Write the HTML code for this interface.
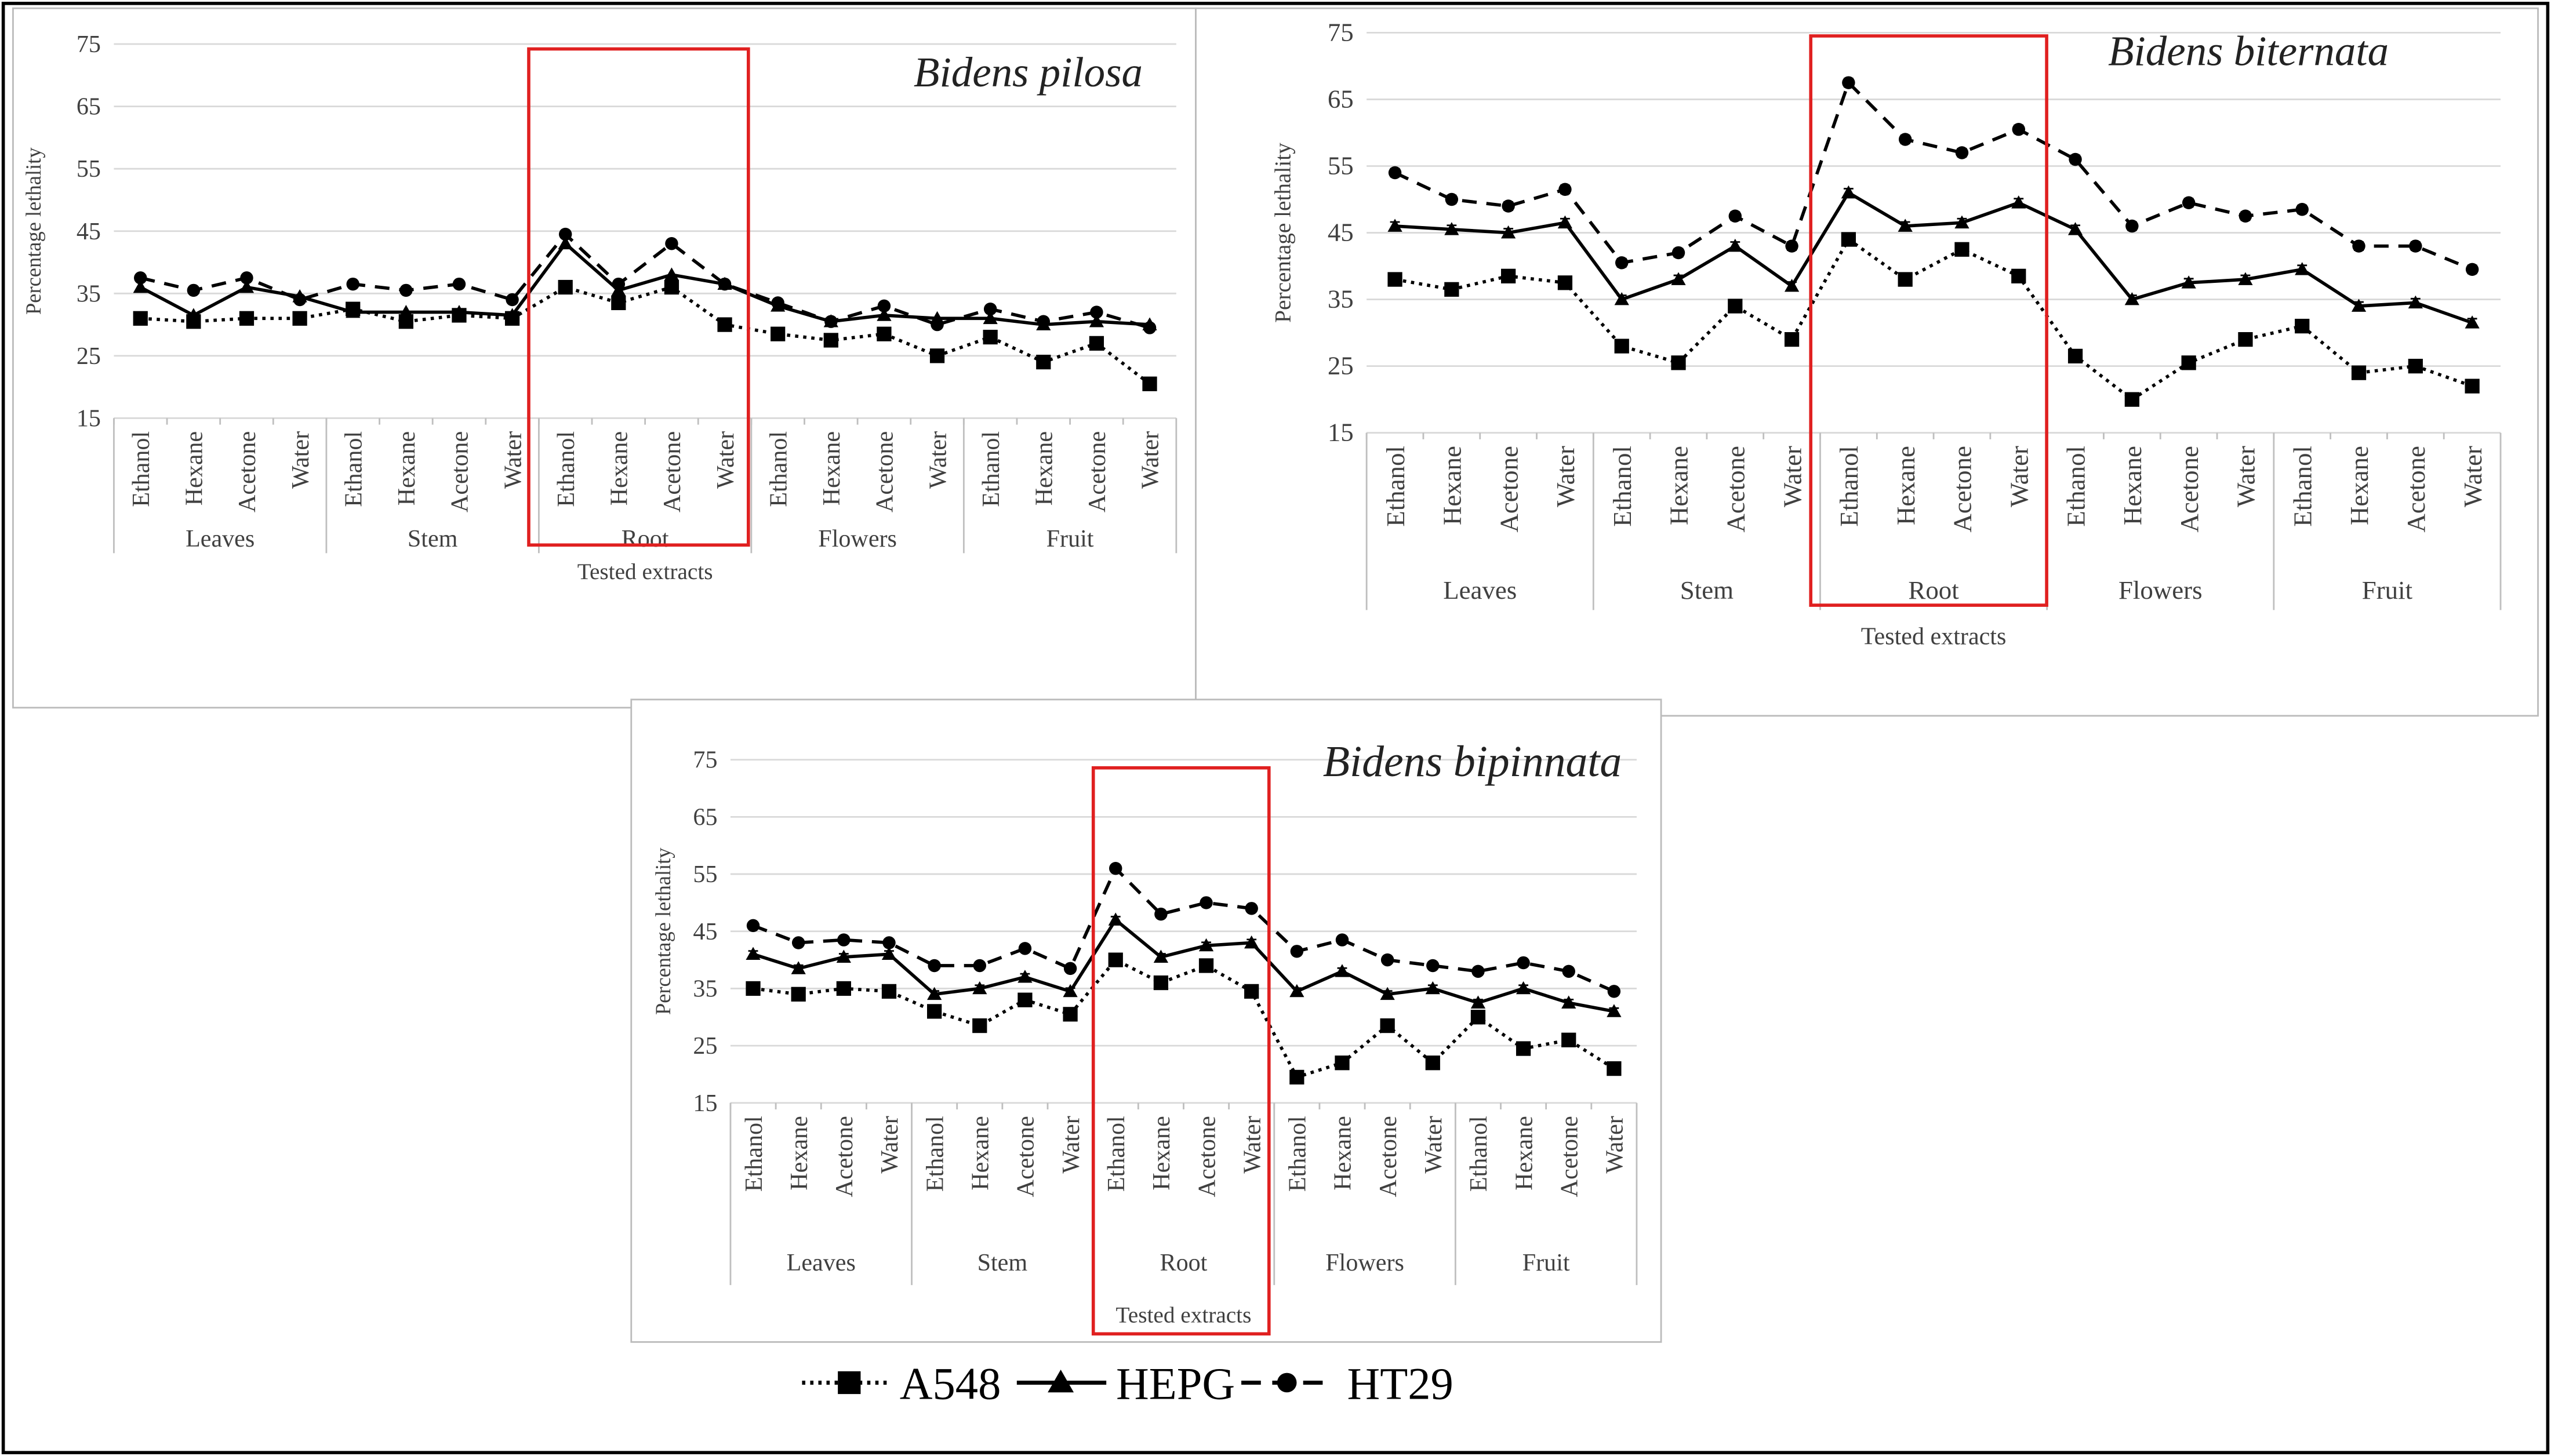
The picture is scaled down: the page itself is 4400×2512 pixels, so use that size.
<!DOCTYPE html>
<html><head><meta charset="utf-8"><style>
html,body{margin:0;padding:0;background:#fff;}
svg{display:block;}
text{font-family:"Liberation Serif",serif;fill:#404040;}
</style></head><body>
<svg id="s" width="4400" height="2512" viewBox="0 0 1568 895" xmlns="http://www.w3.org/2000/svg">
<rect x="2" y="2" width="1564" height="891" fill="#fff" stroke="#000" stroke-width="2"/>
<rect x="8" y="5" width="727" height="430" fill="#fff" stroke="#bbb" stroke-width="1"/>
<rect x="735" y="5" width="825" height="435" fill="#fff" stroke="#bbb" stroke-width="1"/>
<rect x="388" y="430" width="633" height="395" fill="#fff" stroke="#bbb" stroke-width="1"/>
<g id="g"></g>
<g font-size="28">
<line x1="493" y1="850" x2="548" y2="850" stroke="#000" stroke-width="2.5" stroke-dasharray="2,3"/>
<rect x="515" y="843" width="14" height="14" fill="#000"/>
<text x="553" y="860" style="fill:#000">A548</text>
<line x1="625" y1="850" x2="680" y2="850" stroke="#000" stroke-width="2.5"/>
<polygon points="652,842 660,856 644,856" fill="#000"/>
<text x="686" y="860" style="fill:#000">HEPG</text>
<line x1="763" y1="850" x2="820" y2="850" stroke="#000" stroke-width="2.5" stroke-dasharray="12,7"/>
<circle cx="791" cy="850" r="6" fill="#000"/>
<text x="828" y="860" style="fill:#000">HT29</text>
</g>
</svg>
<script>
const NS="http://www.w3.org/2000/svg",G=document.getElementById('g');
function el(t,a,txt){const e=document.createElementNS(NS,t);for(const k in a)e.setAttribute(k,a[k]);if(txt!==undefined)e.textContent=txt;G.appendChild(e);return e;}
const cats=["Ethanol","Hexane","Acetone","Water"],grps=["Leaves","Stem","Root","Flowers","Fruit"];
function panel(p){
 const yv=v=>p.y75+(75-v)*(p.y15-p.y75)/60;
 const w=(p.x1-p.x0)/20,xc=i=>p.x0+w*(i+0.5);
 for(let v=15;v<=75;v+=10){
  el('line',{x1:p.x0,x2:p.x1,y1:yv(v),y2:yv(v),stroke:'#d9d9d9','stroke-width':1});
  el('text',{x:p.x0-8,y:yv(v)+5,'text-anchor':'end','font-size':p.fs},v);
 }
 el('text',{transform:`translate(${p.yl},${(p.y75+p.y15)/2}) rotate(-90)`,'text-anchor':'middle','font-size':p.fs-2},'Percentage lethality');
 for(let g=0;g<=5;g++){const x=p.x0+g*4*w;el('line',{x1:x,x2:x,y1:p.y15,y2:p.gsep,stroke:'#bfbfbf','stroke-width':1});}
 for(let i=0;i<20;i++){
  el('line',{x1:p.x0+w*i,x2:p.x0+w*i,y1:p.y15,y2:p.y15+4,stroke:'#bfbfbf'});
  el('text',{transform:`translate(${xc(i)+p.fs*0.35},${p.y15+8}) rotate(-90)`,'text-anchor':'end','font-size':p.fs},cats[i%4]);
 }
 for(let g=0;g<5;g++)el('text',{x:p.x0+(g*4+2)*w,y:p.gy,'text-anchor':'middle','font-size':p.fs},grps[g]);
 el('text',{x:(p.x0+p.x1)/2,y:p.ty,'text-anchor':'middle','font-size':p.fs-1},'Tested extracts');
 const ser=[[p.a,'2,3','sq'],[p.h,'','tri'],[p.t,'9,6','ci']];
 for(const [d,da,m] of ser){
  el('polyline',{points:d.map((v,i)=>xc(i)+','+yv(v)).join(' '),fill:'none',stroke:'#000','stroke-width':2,'stroke-dasharray':da});
  d.forEach((v,i)=>{const x=xc(i),y=yv(v);
   if(p.eb){el('line',{x1:x,x2:x,y1:y-p.eb,y2:y+p.eb,stroke:'#000'});el('line',{x1:x-3,x2:x+3,y1:y-p.eb,y2:y-p.eb,stroke:'#000'});el('line',{x1:x-3,x2:x+3,y1:y+p.eb,y2:y+p.eb,stroke:'#000'});}
   if(m=='sq')el('rect',{x:x-4.5,y:y-4.5,width:9,height:9,fill:'#000'});
   else if(m=='tri')el('polygon',{points:`${x},${y-4.5} ${x+4.5},${y+3.5} ${x-4.5},${y+3.5}`,fill:'#000'});
   else el('circle',{cx:x,cy:y,r:4,fill:'#000'});
  });
 }
 el('rect',{x:p.rb[0],y:p.rb[1],width:p.rb[2]-p.rb[0],height:p.rb[3]-p.rb[1],fill:'none',stroke:'#e02020','stroke-width':2});
 el('text',{x:p.tx,y:p.tty,'text-anchor':'middle','font-size':p.tfs,'font-style':'italic',style:'fill:#222'},p.title);
}
panel({x0:70,x1:723,y75:27,y15:257,yl:25,fs:15,gsep:340,gy:336,ty:356,eb:0,
 rb:[325,30,460,335],title:'Bidens pilosa',tx:632,tty:53,tfs:26,
 a:[31,30.5,31,31,32.5,30.5,31.5,31,36,33.5,36,30,28.5,27.5,28.5,25,28,24,27,20.5],
 h:[36,31.5,36,34.5,32,32,32,31.5,43,35.5,38,36.5,33,30.5,31.5,31,31,30,30.5,30],
 t:[37.5,35.5,37.5,34,36.5,35.5,36.5,34,44.5,36.5,43,36.5,33.5,30.5,33,30,32.5,30.5,32,29.5]});
panel({x0:840,x1:1537,y75:20,y15:266,yl:793,fs:16,gsep:375,gy:368,ty:396,eb:2.5,
 rb:[1113,22,1258,372],title:'Bidens biternata',tx:1382,tty:40,tfs:26,
 a:[38,36.5,38.5,37.5,28,25.5,34,29,44,38,42.5,38.5,26.5,20,25.5,29,31,24,25,22],
 h:[46,45.5,45,46.5,35,38,43,37,51,46,46.5,49.5,45.5,35,37.5,38,39.5,34,34.5,31.5],
 t:[54,50,49,51.5,40.5,42,47.5,43,67.5,59,57,60.5,56,46,49.5,47.5,48.5,43,43,39.5]});
panel({x0:449,x1:1006,y75:467,y15:678,yl:412,fs:15,gsep:790,gy:781,ty:813,eb:2,
 rb:[672,472,780,820],title:'Bidens bipinnata',tx:905,tty:477,tfs:27,
 a:[35,34,35,34.5,31,28.5,33,30.5,40,36,39,34.5,19.5,22,28.5,22,30,24.5,26,21],
 h:[41,38.5,40.5,41,34,35,37,34.5,47,40.5,42.5,43,34.5,38,34,35,32.5,35,32.5,31],
 t:[46,43,43.5,43,39,39,42,38.5,56,48,50,49,41.5,43.5,40,39,38,39.5,38,34.5]});
</script>
</body></html>
